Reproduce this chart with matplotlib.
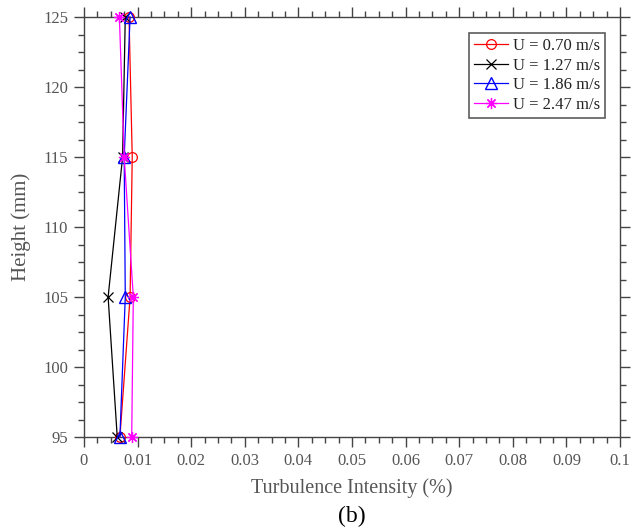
import matplotlib
matplotlib.use("Agg")
import matplotlib.pyplot as plt
from matplotlib.ticker import MultipleLocator

plt.rcParams['font.family'] = ['Liberation Serif', 'DejaVu Serif']

# высоты измерений, мм
height = [95, 105, 115, 125]

# интенсивность турбулентности для разных скоростей
ti_070 = [0.0067, 0.0086, 0.0090, 0.0084]
ti_127 = [0.0062, 0.0045, 0.0072, 0.0077]
ti_186 = [0.0067, 0.0077, 0.0075, 0.0086]
ti_247 = [0.0089, 0.0092, 0.0075, 0.0066]

labels = ["U = 0.70 m/s", "U = 1.27 m/s", "U = 1.86 m/s", "U = 2.47 m/s"]

grey = "#555555"

fig = plt.figure(figsize=(6.32, 5.32), dpi=100)
ax = fig.add_axes([84 / 632, 1 - 437 / 532, 536 / 632, 420 / 532])

ax.plot(ti_070, height, color="red", lw=0.9, marker="o", ms=7, mfc="none", mew=0.9,
        label=labels[0], clip_on=False, zorder=3)
ax.plot(ti_127, height, color="black", lw=0.9, marker="x", ms=7, mew=0.9,
        label=labels[1], clip_on=False, zorder=3)
ax.plot(ti_186, height, color="blue", lw=0.9, marker="^", ms=8, mfc="none", mew=1.0,
        label=labels[2], clip_on=False, zorder=3)
ax.plot(ti_247, height, color="magenta", lw=0.9, marker=(8, 2, 0), ms=8, mew=0.9,
        label=labels[3], clip_on=False, zorder=3)

ax.set_xlim(0, 0.1)
ax.set_ylim(95, 125)
ax.xaxis.set_minor_locator(MultipleLocator(0.0025))
ax.yaxis.set_major_locator(MultipleLocator(5))
ax.yaxis.set_minor_locator(MultipleLocator(1.25))
ax.set_xticks([i * 0.01 for i in range(11)])
ax.set_xticklabels(["0"] + ["0.%02d" % i for i in range(1, 10)] + ["0.1"])

for s in ax.spines.values():
    s.set_color("#444444")
    s.set_linewidth(1.0)
ax.tick_params(which="both", direction="out", top=True, right=True, colors="#444444",
               labelcolor=grey, labelsize=12)
ax.tick_params(which="major", length=7.5, width=1.0, pad=4)
ax.tick_params(which="minor", length=4.5, width=1.0)

ax.set_xlabel("Turbulence Intensity (%)", fontsize=14.5, color=grey, labelpad=7)
ax.set_ylabel("Height (mm)", fontsize=15, color=grey, labelpad=9)

leg = ax.legend(loc="upper right", bbox_to_anchor=(0.972, 0.962), fontsize=12, frameon=True,
                fancybox=False, edgecolor="#333333", handlelength=2.0, handletextpad=0.3,
                borderpad=0.3, labelspacing=0.22, borderaxespad=0)
leg.get_frame().set_linewidth(1.2)
for txt in leg.get_texts():
    txt.set_color("#222222")

fig.text(352 / 632, 1 - 516 / 532, "(b)", ha="center", va="center", fontsize=17)

fig.savefig("out.png", dpi=100)
